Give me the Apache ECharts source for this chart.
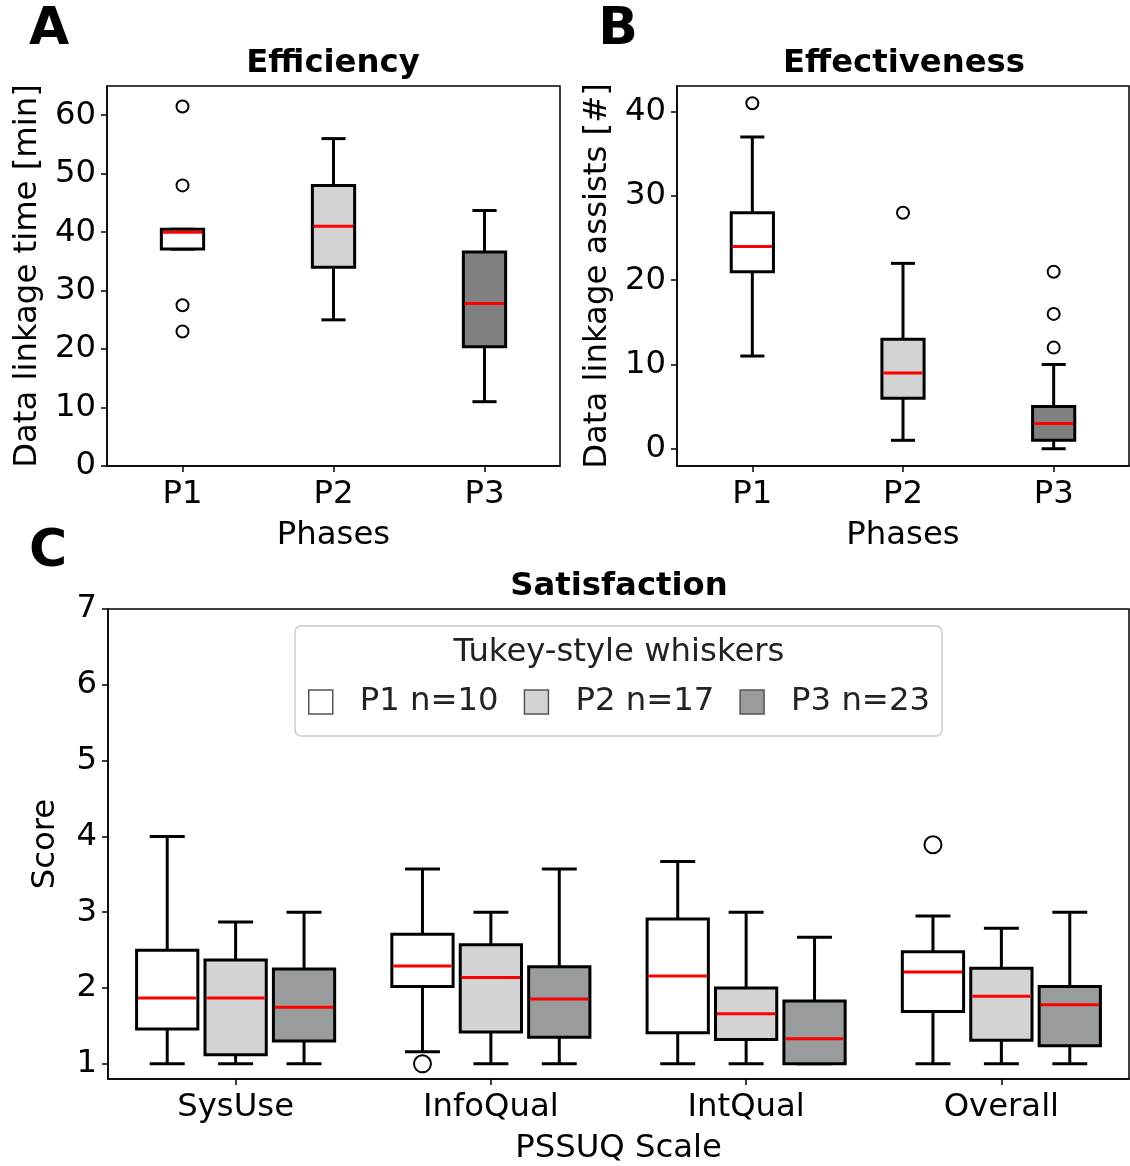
<!DOCTYPE html>
<html>
<head>
<meta charset="utf-8">
<script src="https://cdn.jsdelivr.net/npm/echarts@6/dist/echarts.min.js"></script>
<style>
  html, body { margin: 0; padding: 0; background: #fff; }
  #chart { width: 1130px; height: 1166px; }
</style>
</head>
<body>
<div id="chart"></div>
<script>
// ---- data ---------------------------------------------------------------
// Box statistics are [lower whisker, Q1, median, Q3, upper whisker]
const phases = ['P1', 'P2', 'P3'];
const phaseCounts = [10, 17, 23];

// A: data linkage time per phase [min]
const linkageTime = [
  [37.1, 37.1, 40.0, 40.5, 40.5],
  [25.0, 34.0, 41.0, 48.0, 56.0],
  [11.0, 20.4, 27.8, 36.6, 43.7]
];
// outliers as [phase index, value]
const linkageTimeOutliers = [[0, 61.5], [0, 48.0], [0, 27.5], [0, 23.0]];

// B: data linkage assists per phase [#]
const linkageAssists = [
  [11, 21, 24, 28, 37],
  [1, 6, 9, 13, 22],
  [0, 1, 3, 5, 10]
];
const linkageAssistsOutliers = [[0, 41], [1, 28], [2, 21], [2, 16], [2, 12]];

// C: PSSUQ satisfaction scores per scale, one list per phase
const pssuqScales = ['SysUse', 'InfoQual', 'IntQual', 'Overall'];
const satisfactionP1 = [
  [1.00, 1.46, 1.87, 2.50, 4.00],
  [1.16, 2.02, 2.29, 2.71, 3.57],
  [1.00, 1.41, 2.16, 2.91, 3.67],
  [1.00, 1.69, 2.21, 2.48, 2.95]
];
const satisfactionP2 = [
  [1.00, 1.12, 1.87, 2.37, 2.87],
  [1.00, 1.42, 2.14, 2.57, 3.00],
  [1.00, 1.32, 1.66, 2.00, 3.00],
  [1.00, 1.31, 1.89, 2.26, 2.79]
];
const satisfactionP3 = [
  [1.00, 1.30, 1.745, 2.25, 3.00],
  [1.00, 1.35, 1.855, 2.28, 3.57],
  [1.00, 1.00, 1.33, 1.83, 2.67],
  [1.00, 1.24, 1.78, 2.02, 3.00]
];
const satisfactionP1Outliers = [[1, 1.00], [3, 3.89]];
const satisfactionP2Outliers = [];
const satisfactionP3Outliers = [];

const timeTicks = [0, 10, 20, 30, 40, 50, 60];
const assistTicks = [0, 10, 20, 30, 40];
const scoreTicks = [1, 2, 3, 4, 5, 6, 7];

// ---- styling ------------------------------------------------------------
const FONT = 'DejaVu Sans';
const FS = 32.3;
const fillsAB = ['#ffffff', '#d3d3d3', '#808080'];
const fillsC = ['#ffffff', '#d3d3d3', '#999c9c'];
const groupOffsetsC = [-0.268, 0, 0.268];

// Draws one box-and-whisker glyph through the axis scales.
function boxRenderer(offset, widthFrac, capFrac, lineW) {
  return function (params, api) {
    const cat = api.value(0);
    const band = api.size([1, 0])[0];
    const cx = api.coord([cat, 1])[0] + offset * band;
    const hw = widthFrac * band / 2;
    const cw = capFrac * band / 2;
    const py = k => api.coord([cat, api.value(k)])[1];
    const lo = py(1), q1 = py(2), md = py(3), q3 = py(4), hi = py(5);
    const line = { stroke: '#000', lineWidth: lineW };
    return {
      type: 'group',
      children: [
        { type: 'line', shape: { x1: cx, y1: q1, x2: cx, y2: lo }, style: line },
        { type: 'line', shape: { x1: cx, y1: q3, x2: cx, y2: hi }, style: line },
        { type: 'line', shape: { x1: cx - cw, y1: lo, x2: cx + cw, y2: lo }, style: line },
        { type: 'line', shape: { x1: cx - cw, y1: hi, x2: cx + cw, y2: hi }, style: line },
        { type: 'rect', shape: { x: cx - hw, y: q3, width: 2 * hw, height: q1 - q3 },
          style: { fill: api.visual('color'), stroke: '#000', lineWidth: lineW } },
        { type: 'line', shape: { x1: cx - hw + lineW / 2, y1: md, x2: cx + hw - lineW / 2, y2: md },
          style: { stroke: '#ff0000', lineWidth: 3 } }
      ]
    };
  };
}

// Draws outlier circles through the axis scales.
function outlierRenderer(offset, r) {
  return function (params, api) {
    const cat = api.value(0);
    const band = api.size([1, 0])[0];
    const p = api.coord([cat, api.value(1)]);
    return {
      type: 'circle',
      shape: { cx: p[0] + offset * band, cy: p[1], r: r },
      style: { fill: 'none', stroke: '#000', lineWidth: 2 }
    };
  };
}

function boxData(stats, fills) {
  return stats.map((s, i) => ({ value: [i].concat(s), itemStyle: fills ? { color: fills[i] } : undefined }));
}

const labelStyle = { color: '#000', fontFamily: FONT, fontSize: FS };

function valueAxis(grid, min, max, ticks, name, nameGap) {
  return {
    type: 'value', gridIndex: grid, min: min, max: max,
    name: name, nameLocation: 'middle', nameRotate: 90, nameGap: nameGap,
    nameTextStyle: labelStyle,
    splitLine: { show: false },
    axisLine: { show: true, onZero: false, lineStyle: { color: '#000', width: 1.5 } },
    axisTick: { show: true, length: 6, lineStyle: { color: '#000', width: 1.5 }, customValues: ticks },
    axisLabel: Object.assign({ margin: 11, customValues: ticks }, labelStyle)
  };
}

function categoryAxis(grid, cats, name) {
  return {
    type: 'category', gridIndex: grid, data: cats, boundaryGap: true,
    name: name, nameLocation: 'middle', nameGap: 54,
    nameTextStyle: labelStyle,
    axisLine: { show: true, onZero: false, lineStyle: { color: '#000', width: 1.5 } },
    axisTick: { show: true, alignWithLabel: true, length: 6, lineStyle: { color: '#000', width: 1.5 } },
    axisLabel: Object.assign({ margin: 13, interval: 0 }, labelStyle),
    splitLine: { show: false }
  };
}

const gridBorder = { show: true, borderColor: '#000', borderWidth: 1.5, backgroundColor: 'transparent' };

const satisfaction = [satisfactionP1, satisfactionP2, satisfactionP3];
const satisfactionOutliers = [satisfactionP1Outliers, satisfactionP2Outliers, satisfactionP3Outliers];
const legendNames = phases.map((p, i) => p + ' n=' + phaseCounts[i]);

const series = [
  { type: 'custom', xAxisIndex: 0, yAxisIndex: 0, renderItem: boxRenderer(0, 0.28, 0.16, 3),
    encode: { x: 0, y: [1, 2, 3, 4, 5] }, data: boxData(linkageTime, fillsAB) },
  { type: 'custom', xAxisIndex: 0, yAxisIndex: 0, renderItem: outlierRenderer(0, 6),
    encode: { x: 0, y: 1 }, data: linkageTimeOutliers, z: 3 },
  { type: 'custom', xAxisIndex: 1, yAxisIndex: 1, renderItem: boxRenderer(0, 0.28, 0.16, 3),
    encode: { x: 0, y: [1, 2, 3, 4, 5] }, data: boxData(linkageAssists, fillsAB) },
  { type: 'custom', xAxisIndex: 1, yAxisIndex: 1, renderItem: outlierRenderer(0, 6),
    encode: { x: 0, y: 1 }, data: linkageAssistsOutliers, z: 3 }
];
phases.forEach((p, k) => {
  series.push({
    type: 'custom', name: legendNames[k], xAxisIndex: 2, yAxisIndex: 2,
    renderItem: boxRenderer(groupOffsetsC[k], 0.24, 0.137, 3),
    itemStyle: { color: fillsC[k] },
    encode: { x: 0, y: [1, 2, 3, 4, 5] }, data: boxData(satisfaction[k])
  });
  series.push({
    type: 'custom', xAxisIndex: 2, yAxisIndex: 2,
    renderItem: outlierRenderer(groupOffsetsC[k], 8.5),
    encode: { x: 0, y: 1 }, data: satisfactionOutliers[k], z: 3
  });
});

const boldTitle = { fontFamily: FONT, fontSize: FS, fontWeight: 'bold', fill: '#000', align: 'center', verticalAlign: 'middle' };
const letter = { fontFamily: FONT, fontSize: 52, fontWeight: 'bold', fill: '#000', align: 'center', verticalAlign: 'middle' };

const option = {
  animation: false,
  backgroundColor: '#fff',
  grid: [
    Object.assign({ left: 107, top: 86, width: 453, height: 380 }, gridBorder),
    Object.assign({ left: 677, top: 86, width: 452, height: 380 }, gridBorder),
    Object.assign({ left: 108, top: 609, width: 1021, height: 474 }, gridBorder)
  ],
  xAxis: [
    categoryAxis(0, phases, 'Phases'),
    categoryAxis(1, phases, 'Phases'),
    categoryAxis(2, pssuqScales, 'PSSUQ Scale')
  ],
  yAxis: [
    valueAxis(0, 0, 65, timeTicks, 'Data linkage time [min]', 63),
    valueAxis(1, -2.05, 43.05, assistTicks, 'Data linkage assists [#]', 63),
    valueAxis(2, 0.8, 7, scoreTicks, 'Score', 46)
  ],
  legend: {
    data: legendNames.map((n, i) => ({
      name: n, icon: 'rect',
      itemStyle: { color: fillsC[i], borderColor: '#555', borderWidth: 1.5 }
    })),
    left: 295, top: 626,
    orient: 'horizontal',
    itemWidth: 24, itemHeight: 24, itemGap: 25,
    padding: [60, 12, 18, 13],
    backgroundColor: 'rgba(255,255,255,0.8)',
    borderColor: '#cccccc', borderWidth: 1.5, borderRadius: 6,
    selectedMode: false,
    textStyle: { color: '#222', fontFamily: FONT, fontSize: FS, padding: [0, 0, 0, 22] }
  },
  graphic: [
    { type: 'text', x: 333, y: 64, style: Object.assign({ text: 'Efficiency' }, boldTitle) },
    { type: 'text', x: 904, y: 64, style: Object.assign({ text: 'Effectiveness' }, boldTitle) },
    { type: 'text', x: 619, y: 587, style: Object.assign({ text: 'Satisfaction' }, boldTitle) },
    { type: 'text', x: 49, y: 30, style: Object.assign({ text: 'A' }, letter) },
    { type: 'text', x: 618, y: 30, style: Object.assign({ text: 'B' }, letter) },
    { type: 'text', x: 48, y: 552, style: Object.assign({ text: 'C' }, letter) },
    { type: 'text', x: 619, y: 653, z: 100,
      style: { text: 'Tukey-style whiskers', fontFamily: FONT, fontSize: FS, fill: '#222', align: 'center', verticalAlign: 'middle' } }
  ],
  series: series
};

const chart = echarts.init(document.getElementById('chart'), null, { renderer: 'canvas' });
chart.setOption(option);
</script>
</body>
</html>
